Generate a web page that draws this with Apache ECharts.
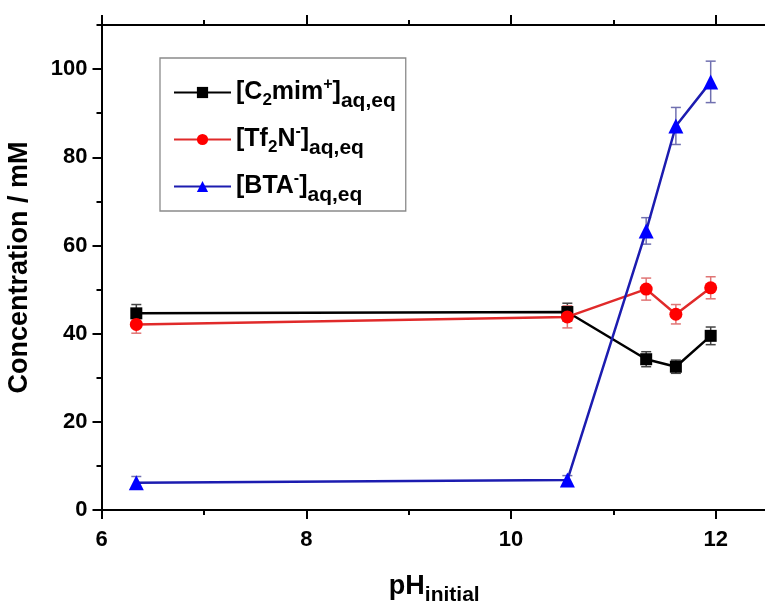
<!DOCTYPE html>
<html>
<head>
<meta charset="utf-8">
<script src="https://cdn.jsdelivr.net/npm/echarts@6/dist/echarts.min.js"></script>
<style>
html,body{margin:0;padding:0;background:#fff;}
#chart{width:765px;height:603px;}
</style>
</head>
<body>
<div id="chart"></div>
<script>
// ---- data ----
const phValues = [6.34, 10.55, 11.32, 11.61, 11.95];
const c2mimValues = [44.6, 44.9, 34.2, 32.5, 39.5];
const c2mimErrors = [2.0, 2.0, 1.7, 1.5, 2.0];
const tf2nValues = [42.1, 43.8, 50.1, 44.4, 50.4];
const tf2nErrors = [2.0, 2.5, 2.5, 2.2, 2.5];
const btaValues = [6.2, 6.8, 63.3, 87.1, 97.1];
const btaErrors = [1.4, 1.0, 3.0, 4.2, 4.7];
const xMajorTicks = [6, 8, 10, 12];
const yMajorTicks = [0, 20, 40, 60, 80, 100];
const seriesNames = ['C2mim', 'Tf2N', 'BTA'];

const pts = (vals) => phValues.map((x, i) => [x, vals[i]]);
const errPts = (vals, errs) => phValues.map((x, i) => [x, vals[i], errs[i]]);

const FONT = 'Liberation Sans, Arial, sans-serif';

function errorSeries(vals, errs, color) {
  return {
    type: 'custom',
    xAxisIndex: 0, yAxisIndex: 0,
    z: 1,
    silent: true,
    data: errPts(vals, errs),
    renderItem: function (params, api) {
      const x = api.value(0), y = api.value(1), e = api.value(2);
      const top = api.coord([x, y + e]);
      const bot = api.coord([x, y - e]);
      const w = 5;
      const st = { stroke: color, lineWidth: 1.5 };
      return {
        type: 'group',
        children: [
          { type: 'line', shape: { x1: top[0], y1: top[1], x2: bot[0], y2: bot[1] }, style: st },
          { type: 'line', shape: { x1: top[0] - w, y1: top[1], x2: top[0] + w, y2: top[1] }, style: st },
          { type: 'line', shape: { x1: bot[0] - w, y1: bot[1], x2: bot[0] + w, y2: bot[1] }, style: st }
        ]
      };
    }
  };
}

const legendLabels = {
  'C2mim': '{m|[C}{s|2}{m|mim}{p|+}{m|]}{b|aq,eq}',
  'Tf2N': '{m|[Tf}{s|2}{m|N}{p|-}{m|]}{b|aq,eq}',
  'BTA': '{m|[BTA}{p|-}{m|]}{b|aq,eq}'
};

const axisLineStyle = { show: true, lineStyle: { color: '#000', width: 2 } };
const labelStyle = { fontFamily: FONT, fontWeight: 'bold', fontSize: 22, color: '#000' };

const chart = echarts.init(document.getElementById('chart'), null, { renderer: 'canvas' });
chart.setOption({
  backgroundColor: '#fff',
  animation: false,
  grid: { left: 101.5, right: -2, top: 25, bottom: 93, containLabel: false, outerBoundsMode: 'none' },
  legend: {
    orient: 'vertical',
    left: 160, top: 58,
    padding: [19, 10, 5, 13],
    itemGap: 12,
    itemWidth: 57,
    itemHeight: 14,
    borderColor: '#8a8a8a',
    borderWidth: 1.3,
    data: seriesNames,
    formatter: (name) => legendLabels[name],
    textStyle: {
      fontFamily: FONT,
      rich: {
        m: { fontFamily: FONT, fontWeight: 'bold', fontSize: 25, color: '#000' },
        s: { fontFamily: FONT, fontWeight: 'bold', fontSize: 17, color: '#000', padding: [15, 0, 0, 0] },
        p: { fontFamily: FONT, fontWeight: 'bold', fontSize: 16, color: '#000', padding: [0, 0, 15, 0] },
        b: { fontFamily: FONT, fontWeight: 'bold', fontSize: 21, color: '#000', padding: [18, 0, 0, 0] }
      }
    }
  },
  xAxis: [
    {
      type: 'value', min: 6, max: 12.5, interval: 1, position: 'bottom',
      axisLine: axisLineStyle,
      axisTick: { show: true, inside: false, length: 9, customValues: xMajorTicks, lineStyle: { width: 2, color: '#000' } },
      axisLabel: Object.assign({ margin: 19, customValues: xMajorTicks }, labelStyle),
      splitLine: { show: false },
      name: '{m|pH}{b|initial}',
      nameLocation: 'middle',
      nameGap: 58,
      nameTextStyle: {
        rich: {
          m: { fontFamily: FONT, fontWeight: 'bold', fontSize: 27, color: '#000' },
          b: { fontFamily: FONT, fontWeight: 'bold', fontSize: 21, color: '#000', padding: [17, 0, 0, 0] }
        }
      }
    },
    {
      type: 'value', min: 6, max: 12.5, interval: 1, position: 'bottom',
      axisLine: { show: false },
      axisTick: { show: true, inside: false, length: 5, lineStyle: { width: 2, color: '#000' } },
      axisLabel: { show: false }, splitLine: { show: false }
    },
    {
      type: 'value', min: 6, max: 12.5, interval: 1, position: 'top',
      axisLine: axisLineStyle,
      axisTick: { show: true, inside: false, length: 10, customValues: xMajorTicks, lineStyle: { width: 2, color: '#000' } },
      axisLabel: { show: false }, splitLine: { show: false }
    },
    {
      type: 'value', min: 6, max: 12.5, interval: 1, position: 'top',
      axisLine: { show: false },
      axisTick: { show: true, inside: false, length: 5, lineStyle: { width: 2, color: '#000' } },
      axisLabel: { show: false }, splitLine: { show: false }
    }
  ],
  yAxis: [
    {
      type: 'value', min: 0, max: 110, interval: 10, position: 'left',
      axisLine: axisLineStyle,
      axisTick: { show: true, inside: false, length: 9, customValues: yMajorTicks, lineStyle: { width: 2, color: '#000' } },
      axisLabel: Object.assign({ margin: 14, customValues: yMajorTicks }, labelStyle),
      splitLine: { show: false },
      name: 'Concentration / mM',
      nameLocation: 'middle',
      nameRotate: 90,
      nameGap: 68,
      nameTextStyle: { fontFamily: FONT, fontWeight: 'bold', fontSize: 27, color: '#000' }
    },
    {
      type: 'value', min: 0, max: 110, interval: 10, position: 'left',
      axisLine: { show: false },
      axisTick: { show: true, inside: false, length: 5, lineStyle: { width: 2, color: '#000' } },
      axisLabel: { show: false }, splitLine: { show: false }
    }
  ],
  series: [
    errorSeries(c2mimValues, c2mimErrors, '#444444'),
    errorSeries(tf2nValues, tf2nErrors, '#e07575'),
    errorSeries(btaValues, btaErrors, '#7070b0'),
    {
      name: 'C2mim', type: 'line', xAxisIndex: 0, yAxisIndex: 0, z: 3,
      data: pts(c2mimValues),
      symbol: 'rect', symbolSize: 12,
      itemStyle: { color: '#000' },
      lineStyle: { color: '#000', width: 2.5 }
    },
    {
      name: 'Tf2N', type: 'line', xAxisIndex: 0, yAxisIndex: 0, z: 4,
      data: pts(tf2nValues),
      symbol: 'circle', symbolSize: 13,
      itemStyle: { color: '#ff0000' },
      lineStyle: { color: '#e02a2a', width: 2.5 }
    },
    {
      name: 'BTA', type: 'line', xAxisIndex: 0, yAxisIndex: 0, z: 5,
      data: pts(btaValues),
      symbol: 'triangle', symbolSize: 15,
      itemStyle: { color: '#0000ff' },
      lineStyle: { color: '#1c1cb0', width: 2.5 }
    }
  ]
});
</script>
</body>
</html>
